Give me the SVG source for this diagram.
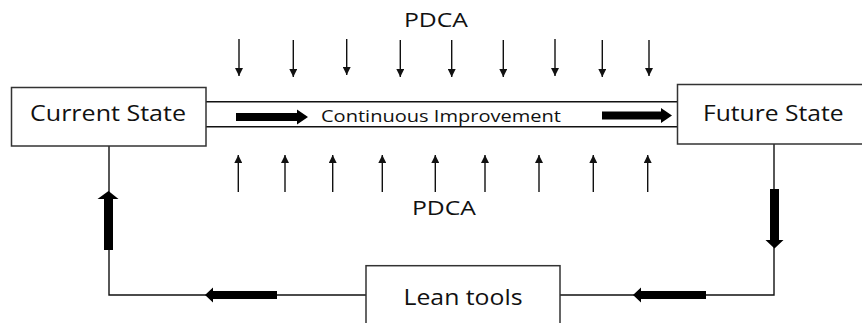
<svg xmlns="http://www.w3.org/2000/svg" width="862" height="323" viewBox="0 0 862 323">
<defs>
<style>
.box{fill:#fff;stroke:#333;stroke-width:1.5}
.ln{fill:none;stroke:#111;stroke-width:1.4}
.thin{fill:none;stroke:#111;stroke-width:1.4;marker-end:url(#ah)}
.big{fill:#000;stroke:none}
text{font-family:"Open Sans","Liberation Sans",sans-serif;fill:#111}
.lbl{font-size:21.5px}
.ci{font-size:17px}
.pd{font-size:20px}
</style>
<marker id="ah" markerUnits="userSpaceOnUse" viewBox="0 0 8 8" refX="8" refY="4" markerWidth="8" markerHeight="8" orient="auto">
<path d="M0,0 L8,4 L0,8 Z" fill="#111"/>
</marker>
</defs>
<rect width="862" height="323" fill="#fff"/>
<g id="connectors">
<line class="ln" x1="206" y1="101.7" x2="677" y2="101.7"/>
<line class="ln" x1="206" y1="126.7" x2="677" y2="126.7"/>
<path class="ln" d="M109,146 V295 H366"/>
<path class="ln" d="M560,295 H774 V144"/>
<path class="big" d="M236,113 H297 V109.5 L308,117 L297,124.5 V121 H236 Z"/>
<path class="big" d="M602,111.5 H661 V108 L672,115.5 L661,123 V119.5 H602 Z"/>
<path class="big" d="M104,250 V199 H97.5 L108.5,191 L118.5,199 H113 V250 Z"/>
<path class="big" d="M770,189 H779 V240 H783.5 L774.5,248.5 L765.5,240 H770 Z"/>
<path class="big" d="M277,291 H213 V287.5 L205,295 L213,302.5 V299 H277 Z"/>
<path class="big" d="M706,291 H641 V287.5 L633,295 L641,302.5 V299 H706 Z"/>
<g id="pdca-down">
<line class="thin" x1="239" y1="39" x2="239" y2="76"/>
<line class="thin" x1="293.3" y1="40" x2="293.3" y2="77"/>
<line class="thin" x1="346.7" y1="39" x2="346.7" y2="75"/>
<line class="thin" x1="400.3" y1="40" x2="400.3" y2="77"/>
<line class="thin" x1="451.7" y1="40" x2="451.7" y2="77"/>
<line class="thin" x1="503.3" y1="40" x2="503.3" y2="77"/>
<line class="thin" x1="555" y1="39" x2="555" y2="76"/>
<line class="thin" x1="602.3" y1="40" x2="602.3" y2="77"/>
<line class="thin" x1="649" y1="40" x2="649" y2="76"/>
</g>
<g id="pdca-up">
<line class="thin" x1="238.3" y1="192" x2="238.3" y2="155"/>
<line class="thin" x1="285" y1="192" x2="285" y2="155"/>
<line class="thin" x1="332.7" y1="192" x2="332.7" y2="155"/>
<line class="thin" x1="382.3" y1="192" x2="382.3" y2="155"/>
<line class="thin" x1="435.3" y1="192" x2="435.3" y2="155"/>
<line class="thin" x1="485" y1="192" x2="485" y2="155"/>
<line class="thin" x1="539" y1="192" x2="539" y2="155"/>
<line class="thin" x1="593.3" y1="192" x2="593.3" y2="155"/>
<line class="thin" x1="647.7" y1="192" x2="647.7" y2="155"/>
</g>
<text class="ci" x="321" y="121.5" textLength="240" lengthAdjust="spacingAndGlyphs">Continuous Improvement</text>
</g>
<g id="current-state">
<rect class="box" x="11.5" y="87.5" width="194.5" height="58.5"/>
<text class="lbl" x="30" y="121" textLength="156" lengthAdjust="spacingAndGlyphs">Current State</text>
</g>
<g id="future-state">
<rect class="box" x="677.5" y="84.5" width="190" height="59.5"/>
<text class="lbl" x="703" y="121" textLength="140.5" lengthAdjust="spacingAndGlyphs">Future State</text>
</g>
<g id="lean-tools">
<rect class="box" x="366" y="265.7" width="194" height="70"/>
<text class="lbl" x="403.5" y="304.5" textLength="119" lengthAdjust="spacingAndGlyphs">Lean tools</text>
</g>
<g id="pdca-top">
<text class="pd" x="404" y="27" textLength="64" lengthAdjust="spacingAndGlyphs">PDCA</text>
</g>
<g id="pdca-bottom">
<text class="pd" x="412" y="214.5" textLength="64" lengthAdjust="spacingAndGlyphs">PDCA</text>
</g>
</svg>
